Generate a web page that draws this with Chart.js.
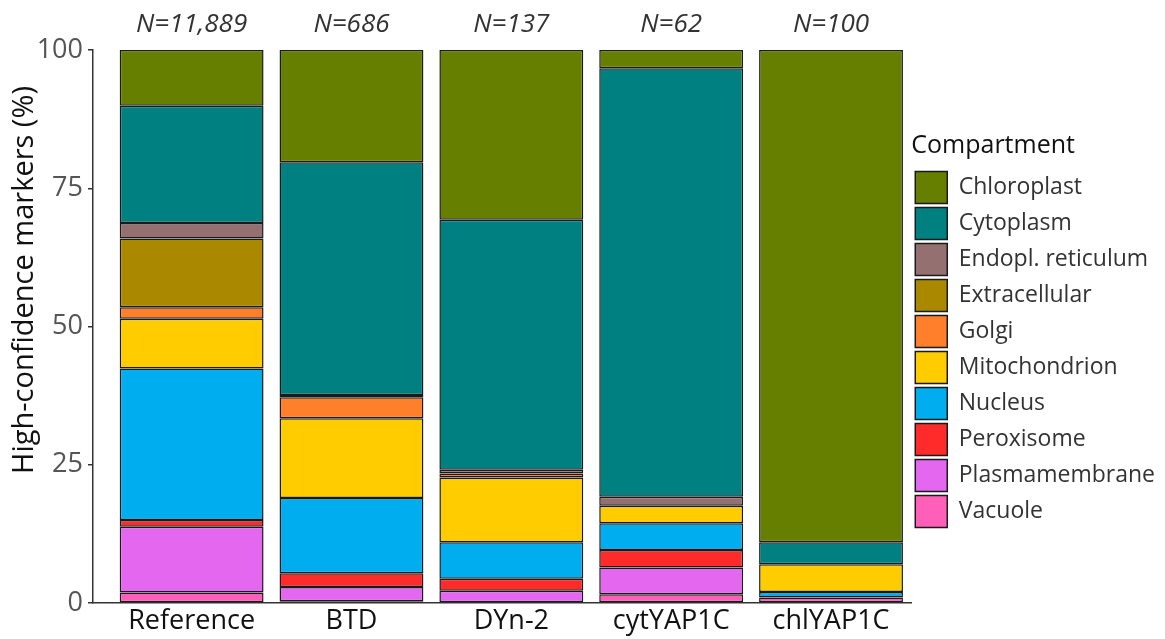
<!DOCTYPE html>
<html>
<head>
<meta charset="utf-8">
<script src="https://cdn.jsdelivr.net/npm/chart.js@4.4.1/dist/chart.umd.min.js"></script>
<style>
  html, body { margin: 0; padding: 0; background: #ffffff; }
  #wrap { width: 1165px; height: 639px; position: relative; }
</style>
</head>
<body>
<div id="wrap"><canvas id="c" width="1165" height="639"></canvas></div>
<script>
const categories = ['Reference', 'BTD', 'DYn-2', 'cytYAP1C', 'chlYAP1C'];
const nLabels = ['N=11,889', 'N=686', 'N=137', 'N=62', 'N=100'];
const yTitle = 'High-confidence markers (%)';
const compartments = ['Chloroplast', 'Cytoplasm', 'Endopl. reticulum', 'Extracellular', 'Golgi',
  'Mitochondrion', 'Nucleus', 'Peroxisome', 'Plasmamembrane', 'Vacuole'];
const chloroplast     = [10.1, 20.3, 30.7, 3.3, 89];
const cytoplasm       = [21.2, 42.1, 45.2, 77.5, 4];
const endoplReticulum = [2.8, 0.4, 0.7, 1.6, 0];
const extracellular   = [12.4, 0, 0, 0, 0];
const golgi           = [2.1, 3.8, 0.7, 0, 0];
const mitochondrion   = [9.0, 14.4, 11.7, 3.2, 5];
const nucleus         = [27.4, 13.6, 6.6, 4.8, 1];
const peroxisome      = [1.2, 2.5, 2.2, 3.2, 0];
const plasmamembrane  = [11.9, 2.6, 2.2, 4.8, 0];
const vacuole         = [1.9, 0.3, 0, 1.6, 1];
const yTicks = [0, 25, 50, 75, 100];

const seriesValues = [chloroplast, cytoplasm, endoplReticulum, extracellular, golgi,
  mitochondrion, nucleus, peroxisome, plasmamembrane, vacuole];
const colors = ['#667F00', '#008080', '#957070', '#AA8800', '#FF7F2A',
  '#FFCC00', '#00AEEF', '#FF2A2A', '#E467F0', '#FF5FB8'];

// stack bottom -> top: Vacuole first
const datasets = [];
for (let k = compartments.length - 1; k >= 0; k--) {
  datasets.push({
    label: compartments[k],
    data: seriesValues[k].map((v, i) => ({ x: i, y: v > 0 ? v : null })),
    backgroundColor: colors[k],
    borderColor: '#1a1a1a',
    borderWidth: 1.5,
    borderSkipped: false,
    categoryPercentage: 1.0,
    barPercentage: 0.9
  });
}

const FONT = "'Open Sans', 'DejaVu Sans', sans-serif";

const textPlugin = {
  id: 'extraText',
  afterDraw(chart) {
    const ctx = chart.ctx;
    const xs = chart.scales.x;
    ctx.save();
    ctx.font = "italic 26px " + FONT;
    ctx.fillStyle = '#333333';
    ctx.textAlign = 'center';
    ctx.textBaseline = 'middle';
    nLabels.forEach((t, i) => {
      ctx.fillText(t, xs.getPixelForValue(i), 25);
    });
    ctx.restore();
    // y-axis title
    ctx.save();
    ctx.translate(25, 280);
    ctx.rotate(-Math.PI / 2);
    ctx.font = "29px " + FONT;
    ctx.fillStyle = '#111111';
    ctx.textAlign = 'center';
    ctx.textBaseline = 'middle';
    ctx.fillText(yTitle, 0, 0);
    ctx.restore();
  }
};

new Chart(document.getElementById('c'), {
  type: 'bar',
  data: { datasets },
  plugins: [textPlugin],
  options: {
    responsive: false,
    animation: false,
    layout: { padding: { top: 50, left: 0, right: 0, bottom: 0 } },
    plugins: {
      tooltip: { enabled: false },
      legend: {
        position: 'right',
        align: 'center',
        fullSize: false,
        reverse: true,
        maxWidth: 256,
        title: {
          display: true,
          text: 'Compartment',
          position: 'start',
          color: '#111111',
          font: { family: FONT, size: 25 },
          padding: { top: 12, bottom: 4 }
        },
        labels: {
          boxWidth: 32,
          boxHeight: 32,
          padding: 4,
          color: '#333333',
          font: { family: FONT, size: 23 }
        }
      }
    },
    scales: {
      x: {
        type: 'linear',
        stacked: true,
        min: -0.617,
        max: 4.502,
        offset: false,
        afterBuildTicks(scale) {
          scale.ticks = categories.map((c, i) => ({ value: i }));
        },
        afterFit(scale) { scale.height = 36; },
        ticks: {
          autoSkip: false,
          maxRotation: 0,
          padding: 2,
          color: '#111111',
          font: { family: FONT, size: 27 },
          callback: (v) => categories[v] !== undefined ? categories[v] : ''
        },
        grid: { display: false, drawTicks: false },
        border: { display: true, color: '#333333', width: 1.5 }
      },
      y: {
        stacked: true,
        min: 0,
        max: 100,
        afterBuildTicks(scale) {
          scale.ticks = yTicks.map(v => ({ value: v }));
        },
        afterFit(scale) { scale.width = 93; },
        ticks: {
          padding: 5,
          color: '#555555',
          font: { family: FONT, size: 27 }
        },
        grid: { display: true, drawOnChartArea: false, drawTicks: true, tickLength: 5, color: '#333333', lineWidth: 1.5 },
        border: { display: true, color: '#333333', width: 1.5 },
        title: { display: false }
      }
    }
  }
});
</script>
</body>
</html>
